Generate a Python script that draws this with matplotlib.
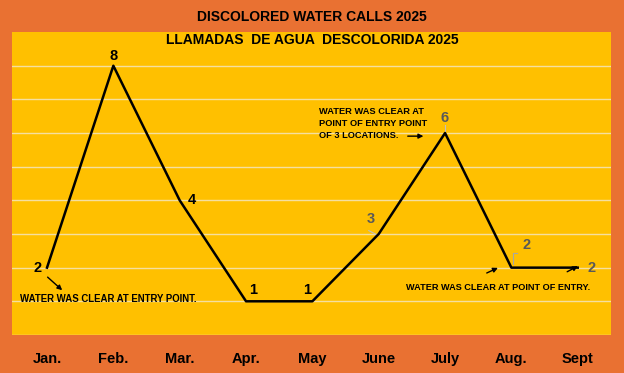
import matplotlib.pyplot as plt

months = ['Jan.', 'Feb.', 'Mar.', 'Apr.', 'May', 'June', 'July', 'Aug.', 'Sept']
calls = [2, 8, 4, 1, 1, 3, 6, 2, 2]
label_colors = ['black', 'black', 'black', 'black', 'black',
                '#595959', '#595959', '#595959', '#595959']
# offsets (points) for the data labels
label_offsets = [(-7, 0), (0, 7), (9, 0), (5, 8), (-4, 8), (-6, 11), (0, 11), (11, 16), (10, 0)]

plt.rcParams['font.family'] = ['Liberation Sans', 'DejaVu Sans']

fig = plt.figure(figsize=(6.24, 3.73), dpi=100, facecolor='#E97132')
ax = fig.add_axes([0.019, 0.102, 0.96, 0.812])
ax.set_facecolor('#FFC000')

x = list(range(len(months)))
ax.plot(x, calls, color='black', linewidth=1.8, zorder=3)

ax.set_xlim(-0.53, 8.5)
ax.set_ylim(0, 9)
ax.set_yticks(range(0, 9))
ax.yaxis.grid(True, color='#F5DFA0', linewidth=1)
ax.set_axisbelow(True)
ax.tick_params(left=False, labelleft=False, bottom=False)
ax.set_xticks(x)
ax.set_xticklabels(months, fontsize=10.5, fontweight='bold')
ax.tick_params(axis='x', pad=9)
for s in ax.spines.values():
    s.set_visible(False)

for xi, yi, c, off in zip(x, calls, label_colors, label_offsets):
    ax.annotate(str(yi), (xi, yi), xytext=off, textcoords='offset points',
                ha='center', va='center', fontsize=10.5, fontweight='bold', color=c)

# small gray leader lines to the labels
ax.plot([7.02, 7.02, 7.09], [2.1, 2.45, 2.45], color='#A6A6A6', linewidth=0.8)
ax.plot([6.0, 6.0], [6.05, 6.25], color='#BFBFBF', linewidth=0.8)
ax.plot([4.95, 4.85], [3.0, 3.1], color='#BFBFBF', linewidth=0.8)

fig.text(0.5, 0.955, 'DISCOLORED WATER CALLS 2025', ha='center', va='center',
         fontsize=10, fontweight='bold')
fig.text(0.5, 0.892, 'LLAMADAS  DE AGUA  DESCOLORIDA 2025', ha='center', va='center',
         fontsize=10, fontweight='bold')


def arrow(start, end):
    ax.annotate('', xy=end, xytext=start, xycoords='figure fraction',
                textcoords='figure fraction', annotation_clip=False,
                arrowprops=dict(arrowstyle='-|>', color='black', lw=1, mutation_scale=7))


# notes
fig.text(0.032, 0.198, 'WATER WAS CLEAR AT ENTRY POINT.', fontsize=6.9,
         fontweight='bold', va='center')
arrow((0.073, 0.262), (0.103, 0.217))

fig.text(0.511, 0.668, 'WATER WAS CLEAR AT\nPOINT OF ENTRY POINT\nOF 3 LOCATIONS.',
         fontsize=6.7, fontweight='bold', va='center', linespacing=1.45)
arrow((0.649, 0.635), (0.683, 0.635))

fig.text(0.651, 0.23, 'WATER WAS CLEAR AT POINT OF ENTRY.', fontsize=6.6,
         fontweight='bold', va='center')
arrow((0.776, 0.265), (0.802, 0.285))
arrow((0.905, 0.268), (0.930, 0.290))

fig.savefig('out.png', dpi=100, facecolor=fig.get_facecolor())
